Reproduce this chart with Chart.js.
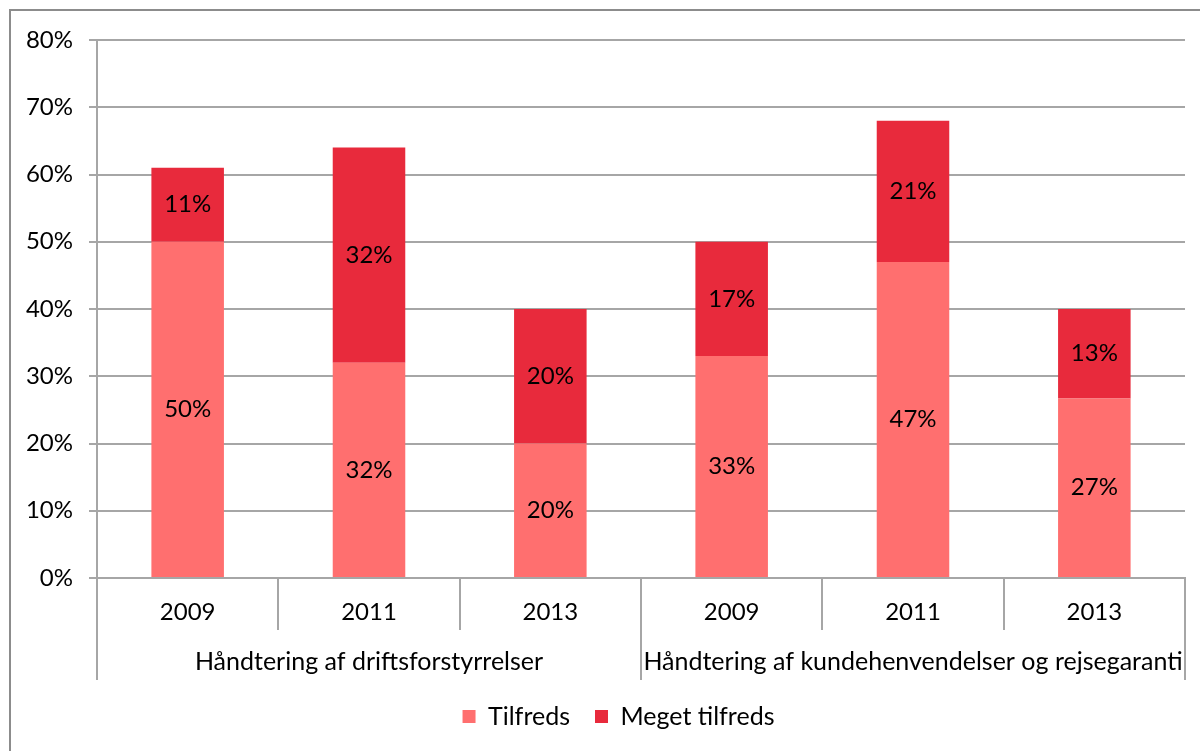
<!DOCTYPE html>
<html>
<head>
<meta charset="utf-8">
<script src="https://cdn.jsdelivr.net/npm/chart.js@4.4.1/dist/chart.umd.min.js"></script>
<style>
html, body { margin: 0; padding: 0; background: #fff; overflow: hidden; }
#wrap { position: relative; width: 1200px; height: 751px; }
#frame { position: absolute; left: 9px; top: 9px; width: 1300px; height: 900px; border: 2px solid #8c8c8c; }
canvas { position: absolute; left: 0; top: 0; }
</style>
</head>
<body>
<div id="wrap">
	<div id="frame"></div>
	<canvas id="chart" width="1200" height="751"></canvas>
</div>
<script>
// data
const years = ["2009", "2011", "2013", "2009", "2011", "2013"];
const groups = ["Håndtering af driftsforstyrrelser", "Håndtering af kundehenvendelser og rejsegaranti"];
const tilfreds = [50, 32, 20, 33, 47, 26.7];
const megetTilfreds = [11, 32, 20, 17, 21, 13.3];
const yTicks = [0, 10, 20, 30, 40, 50, 60, 70, 80];

const gridColor = "#a6a6a6";
const fontFamily = "Lato, 'Open Sans', sans-serif";
const fontSize = 24;

// draws the second row of the x axis (groups) and the divider lines
const groupAxis = {
	id: "groupAxis",
	afterLayout(chart) {
		// legend in the original sits a bit right of the canvas centre
		chart.legend.left += 26;
		chart.legend.right += 26;
	},
	afterDraw(chart) {
		const ctx = chart.ctx;
		const area = chart.chartArea;
		const step = (area.right - area.left) / years.length;
		ctx.save();
		ctx.strokeStyle = gridColor;
		ctx.lineWidth = 2;
		for (let i = 0; i <= years.length; i++) {
			const px = Math.round(area.left + i * step);
			const end = i % 3 === 0 ? area.bottom + 102 : area.bottom + 52;
			ctx.beginPath();
			ctx.moveTo(px, area.bottom);
			ctx.lineTo(px, end);
			ctx.stroke();
		}
		ctx.fillStyle = "#000";
		ctx.font = "25px " + fontFamily;
		ctx.textAlign = "center";
		ctx.textBaseline = "middle";
		groups.forEach((g, gi) => {
			const cx = area.left + (gi * 3 + 1.5) * step;
			ctx.fillText(g, cx, area.bottom + 84);
		});
		ctx.restore();
	},
};

// value labels in the middle of each bar segment
const segLabels = {
	id: "segLabels",
	afterDatasetsDraw(chart) {
		const ctx = chart.ctx;
		ctx.save();
		ctx.fillStyle = "#000";
		ctx.font = fontSize + "px " + fontFamily;
		ctx.textAlign = "center";
		ctx.textBaseline = "middle";
		chart.data.datasets.forEach((ds, di) => {
			chart.getDatasetMeta(di).data.forEach((bar, i) => {
				const p = bar.getCenterPoint();
				ctx.fillText(Math.round(ds.data[i]) + "%", p.x, p.y);
			});
		});
		ctx.restore();
	},
};

const ctx = document.getElementById("chart").getContext("2d");
const chart = new Chart(ctx, {
	type: "bar",
	data: {
		labels: years,
		datasets: [
			{
				label: "Tilfreds",
				data: tilfreds,
				backgroundColor: "#ff6f6f",
			},
			{
				label: "Meget tilfreds",
				data: megetTilfreds,
				backgroundColor: "#e82a3c",
			},
		],
	},
	options: {
		responsive: false,
		animation: false,
		layout: {
			padding: { left: 0, right: 15, top: 40, bottom: 12 },
		},
		datasets: {
			bar: {
				categoryPercentage: 1,
				barPercentage: 0.4,
			},
		},
		scales: {
			x: {
				stacked: true,
				grid: { display: false, drawTicks: false },
				border: { display: true, color: gridColor, width: 2 },
				ticks: {
					color: "#000",
					font: { size: fontSize, family: fontFamily },
					padding: 20,
					maxRotation: 0,
				},
				afterFit(scale) {
					scale.height = 101;
				},
			},
			y: {
				stacked: true,
				min: 0,
				max: 80,
				afterBuildTicks(scale) {
					scale.ticks = yTicks.map((v) => ({ value: v }));
				},
				grid: { color: gridColor, lineWidth: 2, tickLength: 8 },
				border: { display: true, color: gridColor, width: 2 },
				ticks: {
					color: "#000",
					font: { size: fontSize, family: fontFamily },
					padding: 16,
					callback: (v) => v + "%",
				},
				afterFit(scale) {
					scale.width = 97;
				},
			},
		},
		plugins: {
			legend: {
				position: "bottom",
				labels: {
					color: "#000",
					font: { size: 25, family: fontFamily },
					boxWidth: 13,
					boxHeight: 13,
					padding: 25,
				},
			},
			tooltip: { enabled: false },
		},
	},
	plugins: [groupAxis, segLabels],
});
</script>
</body>
</html>
